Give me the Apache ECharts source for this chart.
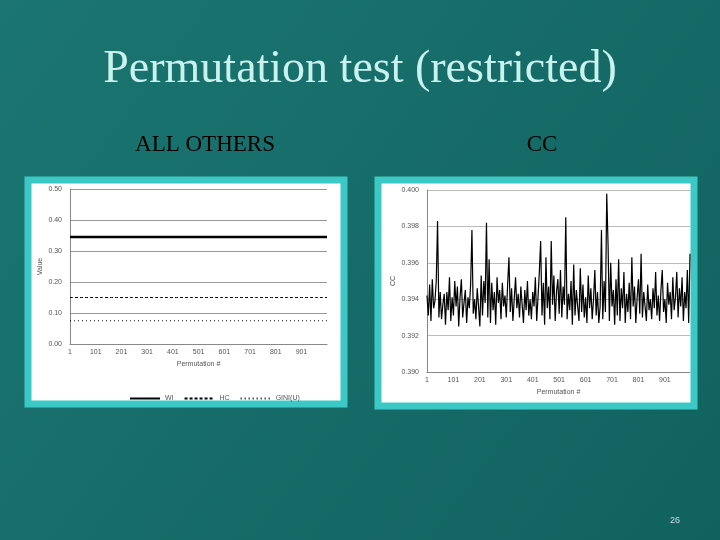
<!DOCTYPE html>
<html>
<head>
<meta charset="utf-8">
<script src="https://cdn.jsdelivr.net/npm/echarts@6/dist/echarts.min.js"></script>
<style>
  html, body { margin: 0; padding: 0; }
  #chart { width: 720px; height: 540px; }
</style>
</head>
<body>
<div id="chart"></div>
<script>
// left chart: constant statistics over 1000 permutations
const wiValue = 0.345;
const hcValue = 0.15;
const giniValue = 0.075;
const leftCount = 1000;

// right chart: CC statistic, one reading every 5th permutation
const ccStep = 5;
const ccValues = [
  0.3942, 0.3931, 0.3948, 0.3928, 0.3951, 0.3935, 0.3939, 0.3950, 0.3983, 0.3930,
  0.3944, 0.3929, 0.3937, 0.3943, 0.3926, 0.3944, 0.3934, 0.3952, 0.3928, 0.3941,
  0.3931, 0.3950, 0.3936, 0.3947, 0.3925, 0.3941, 0.3951, 0.3930, 0.3938, 0.3945,
  0.3927, 0.3941, 0.3935, 0.3948, 0.3978, 0.3932, 0.3940, 0.3929, 0.3946, 0.3936,
  0.3925, 0.3953, 0.3931, 0.3950, 0.3938, 0.3982, 0.3930, 0.3962, 0.3927, 0.3949,
  0.3934, 0.3944, 0.3926, 0.3952, 0.3938, 0.3945, 0.3929, 0.3949, 0.3936, 0.3942,
  0.3930, 0.3948, 0.3963, 0.3933, 0.3946, 0.3928, 0.3940, 0.3952, 0.3935, 0.3943,
  0.3930, 0.3947, 0.3937, 0.3927, 0.3945, 0.3934, 0.3950, 0.3931, 0.3940, 0.3929,
  0.3944, 0.3936, 0.3952, 0.3928, 0.3941, 0.3955, 0.3972, 0.3931, 0.3949, 0.3926,
  0.3963, 0.3935, 0.3947, 0.3929, 0.3972, 0.3937, 0.3953, 0.3928, 0.3944, 0.3951,
  0.3932, 0.3956, 0.3930, 0.3947, 0.3937, 0.3985, 0.3929, 0.3943, 0.3934, 0.3950,
  0.3926, 0.3959, 0.3931, 0.3945, 0.3936, 0.3928, 0.3957, 0.3933, 0.3948, 0.3930,
  0.3941, 0.3927, 0.3953, 0.3935, 0.3946, 0.3929, 0.3940, 0.3956, 0.3931, 0.3944,
  0.3927, 0.3936, 0.3978, 0.3929, 0.3950, 0.3933, 0.3998, 0.3970, 0.3928, 0.3960,
  0.3936, 0.3945, 0.3926, 0.3951, 0.3931, 0.3962, 0.3928, 0.3946, 0.3935, 0.3955,
  0.3927, 0.3943, 0.3933, 0.3949, 0.3929, 0.3963, 0.3936, 0.3947, 0.3927, 0.3941,
  0.3951, 0.3932, 0.3965, 0.3930, 0.3944, 0.3936, 0.3928, 0.3948, 0.3934, 0.3940,
  0.3929, 0.3946, 0.3935, 0.3955, 0.3931, 0.3942, 0.3928, 0.3945, 0.3956, 0.3933,
  0.3940, 0.3927, 0.3949, 0.3937, 0.3944, 0.3929, 0.3952, 0.3934, 0.3941, 0.3955,
  0.3930, 0.3946, 0.3936, 0.3952, 0.3928, 0.3944, 0.3935, 0.3956, 0.3927, 0.3965
];

let leftCats = [];
for (let i = 1; i <= leftCount; i++) leftCats.push(String(i));
let ccCats = ccValues.map((v, i) => String(i * ccStep + 1));
const flat = v => leftCats.map(() => v);

let myChart = echarts.init(document.getElementById('chart'));
const small = { fontFamily: 'Liberation Sans', fontSize: 7, color: '#555' };
const frame = (x, y, w, h) => ({
    type: 'rect', shape: { x: x, y: y, width: w, height: h }, z: -1,
    style: { fill: '#fff', stroke: '#3cc9c6', lineWidth: 7 }
});

let option = {
    backgroundColor: new echarts.graphic.LinearGradient(0, 0, 1, 1, [
        { offset: 0, color: '#1b7571' },
        { offset: 1, color: '#11625f' }
    ]),
    animation: false,
    title: [
        { text: 'Permutation test (restricted)', left: 'center', top: 42,
          textStyle: { fontFamily: 'Liberation Serif', fontSize: 46, fontWeight: 'normal', color: '#c9f2ee' } },
        { text: 'ALL OTHERS', left: 200, top: 128, textAlign: 'center',
          textStyle: { fontFamily: 'Liberation Serif', fontSize: 23, fontWeight: 'normal', color: '#000' } },
        { text: 'CC', left: 537, top: 128, textAlign: 'center',
          textStyle: { fontFamily: 'Liberation Serif', fontSize: 23, fontWeight: 'normal', color: '#000' } },
        { text: '26', left: 665, top: 511,
          textStyle: { fontFamily: 'Liberation Sans', fontSize: 9, fontWeight: 'normal', color: '#cde' } }
    ],
    graphic: [frame(28, 180, 316, 224), frame(378, 180, 316, 226)],
    legend: {
        left: 124, top: 390, itemWidth: 30, itemHeight: 3, itemGap: 10,
        textStyle: small, itemStyle: { opacity: 0 },
        data: ['WI', 'HC', 'GINI(U)']
    },
    grid: [
        { left: 70, top: 189, width: 257, height: 155 },
        { left: 427, top: 190, width: 263, height: 182 }
    ],
    xAxis: [
        { type: 'category', gridIndex: 0, data: leftCats, boundaryGap: false,
          name: 'Permutation #', nameLocation: 'middle', nameGap: 17, nameTextStyle: small,
          axisLine: { lineStyle: { color: '#888' } }, axisTick: { show: false },
          axisLabel: Object.assign({ interval: 99, margin: 5 }, small) },
        { type: 'category', gridIndex: 1, data: ccCats, boundaryGap: false,
          name: 'Permutation #', nameLocation: 'middle', nameGap: 17, nameTextStyle: small,
          axisLine: { lineStyle: { color: '#888' } }, axisTick: { show: false },
          axisLabel: Object.assign({ interval: 19, margin: 5 }, small) }
    ],
    yAxis: [
        { type: 'value', gridIndex: 0, min: 0, max: 0.5, interval: 0.1,
          name: 'Value', nameLocation: 'middle', nameGap: 26, nameTextStyle: small,
          axisLine: { show: true, lineStyle: { color: '#888' } },
          splitLine: { lineStyle: { color: '#999' } },
          axisLabel: Object.assign({ formatter: v => v.toFixed(2) }, small) },
        { type: 'value', gridIndex: 1, min: 0.39, max: 0.4, interval: 0.002,
          name: 'CC', nameLocation: 'middle', nameGap: 30, nameTextStyle: small,
          axisLine: { show: true, lineStyle: { color: '#888' } },
          splitLine: { lineStyle: { color: '#bbb' } },
          axisLabel: Object.assign({ formatter: v => v.toFixed(3) }, small) }
    ],
    series: [
        { name: 'WI', type: 'line', xAxisIndex: 0, yAxisIndex: 0, data: flat(wiValue),
          symbol: 'none', lineStyle: { color: '#000', width: 2.5 }, itemStyle: { color: '#000' } },
        { name: 'HC', type: 'line', xAxisIndex: 0, yAxisIndex: 0, data: flat(hcValue),
          symbol: 'none', lineStyle: { color: '#000', width: 1, type: [3, 2] }, itemStyle: { color: '#000' } },
        { name: 'GINI(U)', type: 'line', xAxisIndex: 0, yAxisIndex: 0, data: flat(giniValue),
          symbol: 'none', lineStyle: { color: '#000', width: 1, type: [1, 3] }, itemStyle: { color: '#000' } },
        { name: 'CC', type: 'line', xAxisIndex: 1, yAxisIndex: 1, data: ccValues,
          symbol: 'none', lineStyle: { color: '#000', width: 1.2 } }
    ]
};
myChart.setOption(option);
</script>
</body>
</html>
